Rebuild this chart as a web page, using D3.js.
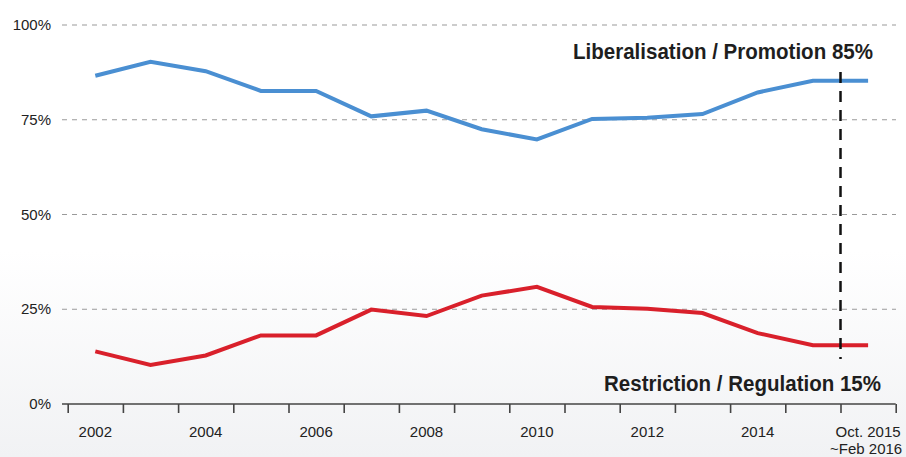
<!DOCTYPE html>
<html>
<head>
<meta charset="utf-8">
<script src="https://cdn.jsdelivr.net/npm/d3@7"></script>
<style>
  body { margin: 0; background: #fff; }
  svg { display: block; }
  text { font-family: "Liberation Sans", Arial, sans-serif; fill: #222; }
  .title { font-family: "Liberation Sans Narrow", "Liberation Sans", Arial, sans-serif; font-weight: bold; font-size: 22px; fill: #1e1e1e; }
</style>
</head>
<body>
<script>
// periods along the x axis (one per interval between ticks)
var periods = ["2002", "2003", "2004", "2005", "2006", "2007", "2008", "2009",
               "2010", "2011", "2012", "2013", "2014", "2015", "Oct. 2015"];
var shownLabels = ["2002", "2004", "2006", "2008", "2010", "2012", "2014", "Oct. 2015"];
var liberalisation = [86.6, 90.3, 87.8, 82.6, 82.6, 75.9, 77.4, 72.5, 69.8, 75.2, 75.5, 76.5, 82.2, 85.3, 85.3];
var restriction = [13.9, 10.3, 12.8, 18.1, 18.1, 24.9, 23.2, 28.6, 30.9, 25.6, 25.1, 24.0, 18.7, 15.5, 15.5];
var yTicks = [0, 25, 50, 75, 100];

(function(){
    var w = 906, h = 457;
    var svg = d3.select("body").append("svg")
        .attr("width", w)
        .attr("height", h);

    // faint grey wash toward the bottom
    var grad = svg.append("defs").append("linearGradient")
        .attr("id", "bg").attr("x1", 0).attr("y1", 0).attr("x2", 0).attr("y2", 1);
    grad.append("stop").attr("offset", "0%").attr("stop-color", "#ffffff");
    grad.append("stop").attr("offset", "55%").attr("stop-color", "#ffffff");
    grad.append("stop").attr("offset", "100%").attr("stop-color", "#f1f2f4");
    svg.append("rect").attr("width", w).attr("height", h).attr("fill", "url(#bg)");

    var x = d3.scaleLinear().domain([0, periods.length]).range([67.7, 895.7]);
    var y = d3.scaleLinear().domain([0, 100]).range([404, 25]);
    var gridLeft = 62, gridRight = 896;

    // horizontal dashed grid
    svg.selectAll("line.grid")
        .data(yTicks.filter(function(d){ return d > 0; }))
        .enter().append("line")
        .attr("class", "grid")
        .attr("x1", gridLeft).attr("x2", gridRight)
        .attr("y1", function(d){ return y(d); })
        .attr("y2", function(d){ return y(d); })
        .attr("stroke", "#9a9a9a")
        .attr("stroke-width", 1.2)
        .attr("stroke-dasharray", "5,5");

    // y labels
    svg.selectAll("text.ylab")
        .data(yTicks)
        .enter().append("text")
        .attr("class", "ylab")
        .attr("x", 51)
        .attr("y", function(d){ return y(d) + 5; })
        .attr("text-anchor", "end")
        .style("font-size", "15px")
        .text(function(d){ return d + "%"; });

    // x axis with ticks at interval boundaries
    var xAxis = d3.axisBottom(x)
        .tickValues(d3.range(periods.length + 1))
        .tickSize(9)
        .tickFormat("");
    var gx = svg.append("g")
        .attr("transform", "translate(0," + y(0) + ")")
        .call(xAxis);
    gx.select(".domain").attr("d", "M" + gridLeft + ",0H" + x(periods.length))
        .attr("stroke", "#444").attr("stroke-width", 1.6);
    gx.selectAll(".tick line").attr("stroke", "#444").attr("stroke-width", 1.6);

    // x labels at interval centres
    svg.selectAll("text.xlab")
        .data(shownLabels)
        .enter().append("text")
        .attr("class", "xlab")
        .attr("x", function(d){ return x(periods.indexOf(d) + 0.5); })
        .attr("y", 437)
        .attr("text-anchor", "middle")
        .style("font-size", "15px")
        .text(function(d){ return d; });
    svg.append("text")
        .attr("x", x(periods.length - 0.5) - 2)
        .attr("y", 454)
        .attr("text-anchor", "middle")
        .style("font-size", "15px")
        .text("~Feb 2016");

    // series lines
    var line = d3.line()
        .x(function(d, i){ return x(i + 0.5); })
        .y(function(d){ return y(d); });

    svg.append("path").datum(liberalisation)
        .attr("d", line)
        .attr("fill", "none")
        .attr("stroke", "#4a8fd2")
        .attr("stroke-width", 4);
    svg.append("path").datum(restriction)
        .attr("d", line)
        .attr("fill", "none")
        .attr("stroke", "#d9202b")
        .attr("stroke-width", 4);

    // dashed marker before the last period (stops above the lower label)
    svg.append("line")
        .attr("x1", x(periods.length - 1)).attr("x2", x(periods.length - 1))
        .attr("y1", 72).attr("y2", 359)
        .attr("stroke", "#111")
        .attr("stroke-width", 2.5)
        .attr("stroke-dasharray", "11,8");

    // series labels (condensed to the reference width)
    svg.append("text")
        .attr("class", "title")
        .attr("x", 573).attr("y", 59)
        .attr("textLength", 300)
        .attr("lengthAdjust", "spacingAndGlyphs")
        .text("Liberalisation / Promotion 85%");
    svg.append("text")
        .attr("class", "title")
        .attr("x", 604).attr("y", 391)
        .attr("textLength", 277)
        .attr("lengthAdjust", "spacingAndGlyphs")
        .text("Restriction / Regulation 15%");
}());
</script>
</body>
</html>
